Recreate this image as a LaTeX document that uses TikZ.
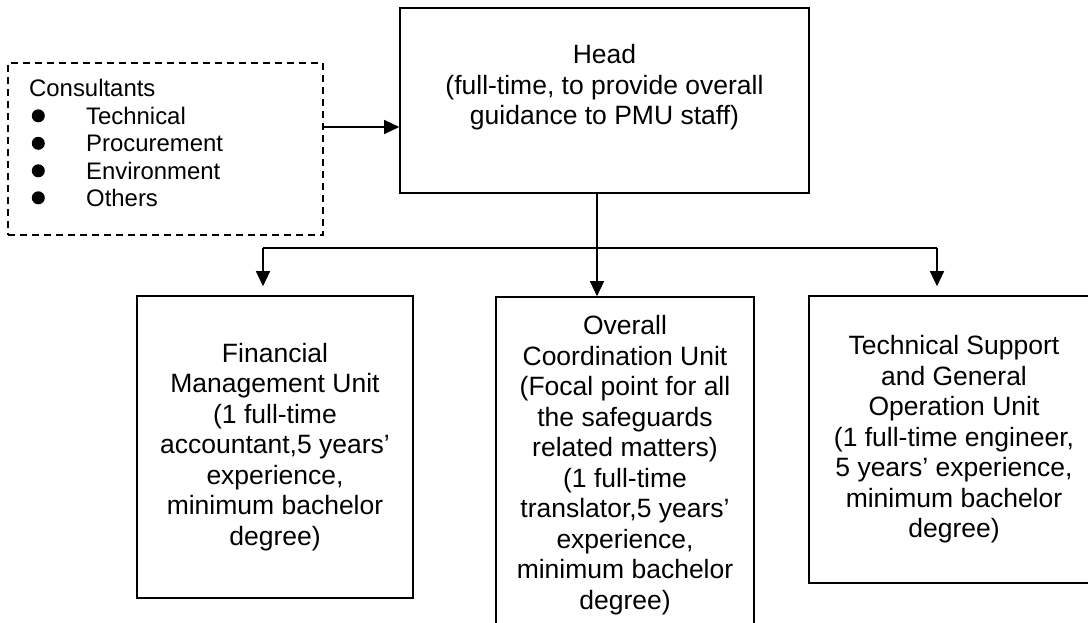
\documentclass[tikz,border=0pt]{standalone}
\usepackage{fontspec}
\setmainfont{Liberation Sans}
\usetikzlibrary{arrows.meta}
\begin{document}
\begin{tikzpicture}[x=1pt,y=1pt,
  box/.style={draw=black, line width=1.6pt, rectangle, inner sep=0pt, align=center,
    font=\fontsize{26.5}{30.5}\selectfont},
  consbox/.style={draw=black, line width=1.5pt, dash pattern=on 7pt off 5pt, rectangle, inner sep=0pt},
  ctext/.style={anchor=base west, inner sep=0pt, font=\fontsize{23.9}{27.5}\selectfont},
  htext/.style={anchor=north, inner sep=0pt, align=center, font=\fontsize{26.5}{30.5}\selectfont},
  arr/.style={line width=1.3pt, -{Triangle[length=15pt,width=14pt]}},
  ln/.style={line width=1.3pt}]
\clip (0,0) rectangle (1088,-623);
\fill[white] (0,0) rectangle (1088,-623);

% Consultants
\node[consbox, minimum width=315pt, minimum height=172pt] (cons) at (165.5,-149) {};
\node[ctext] (ct0) at (29,-97) {Consultants};
\node[ctext] (ct1) at (86,-124.5) {Technical};
\node[ctext] (ct2) at (86,-152) {Procurement};
\node[ctext] (ct3) at (86,-179.5) {Environment};
\node[ctext] (ct4) at (86,-206.5) {Others};
\foreach \y in {124.5,152,179.5,206.5} \fill (38.3,-\y+8.7) circle (6.5pt);

% Head
\node[box, minimum width=409pt, minimum height=185pt] (head) at (604.5,-100.5) {};
\node[htext] (headtxt) at (604.5,-44.5) {Head\\(full-time, to provide overall\\guidance to PMU staff)};

% Bottom boxes
\node[box, minimum width=276pt, minimum height=302pt] (fin) at (275,-447)
  {Financial\\Management Unit\\(1 full-time\\accountant,5 years’\\experience,\\minimum bachelor\\degree)};
\node[box, minimum width=258pt, minimum height=336pt] (mid) at (625,-465)
  {Overall\\Coordination Unit\\(Focal point for all\\the safeguards\\related matters)\\(1 full-time\\translator,5 years’\\experience,\\minimum bachelor\\degree)};
\node[box, minimum width=290pt, minimum height=287pt] (tech) at (954,-439.5)
  {Technical Support\\and General\\Operation Unit\\(1 full-time engineer,\\5 years’ experience,\\minimum bachelor\\degree)};

% Connectors
\coordinate (ca) at (0,-127);
\coordinate (hj) at (597,-248);
\coordinate (bl) at (263,-248);
\coordinate (br) at (937,-248);
\draw[arr] (cons.east |- ca) -- (head.west |- ca);
\draw[arr] (head.south -| hj) -- (mid.north -| hj);
\draw[ln] (bl) -- (br);
\draw[arr, shorten >=9pt] (bl) -- (fin.north -| bl);
\draw[arr, shorten >=9pt] (br) -- (tech.north -| br);
\end{tikzpicture}
\end{document}
